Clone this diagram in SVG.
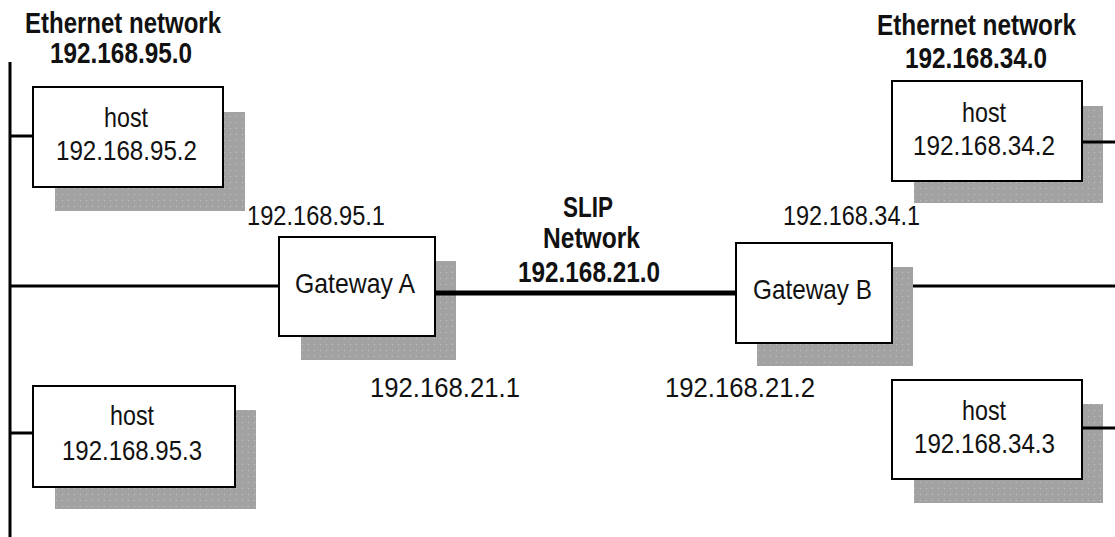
<svg xmlns="http://www.w3.org/2000/svg" width="1115" height="537" viewBox="0 0 1115 537">
  <defs>
    <!-- dotted grey drop shadow texture -->
    <pattern id="dots" width="6" height="6" patternUnits="userSpaceOnUse">
      <rect width="6" height="6" fill="#a2a2a2"/>
      <rect x="2" y="2" width="1" height="1" fill="#c4c4c4"/>
    </pattern>
  </defs>
  <style>
    .shadow { fill: url(#dots); }
    .box { fill: #ffffff; stroke: #000000; stroke-width: 2; }
    .lbl { font-family: "Liberation Sans", Arial, sans-serif; font-size: 28px; fill: #111111; }
    .ttl { font-family: "Liberation Sans", Arial, sans-serif; font-size: 29px; font-weight: bold; fill: #111111; }
    .wire { stroke: #000000; stroke-width: 3; fill: none; }
    .slip { stroke: #000000; stroke-width: 5; fill: none; }
  </style>
  <rect width="1115" height="537" fill="#ffffff"/>

  <!-- network titles -->
  <g id="net-95">
    <text class="ttl" x="25" y="33" textLength="196" lengthAdjust="spacingAndGlyphs">Ethernet network</text>
    <text class="ttl" x="50" y="63" textLength="142" lengthAdjust="spacingAndGlyphs">192.168.95.0</text>
  </g>
  <g id="net-34">
    <text class="ttl" x="877" y="35" textLength="199" lengthAdjust="spacingAndGlyphs">Ethernet network</text>
    <text class="ttl" x="905" y="68" textLength="142" lengthAdjust="spacingAndGlyphs">192.168.34.0</text>
  </g>
  <g id="net-slip">
    <text class="ttl" x="563" y="217" textLength="50" lengthAdjust="spacingAndGlyphs">SLIP</text>
    <text class="ttl" x="543" y="248" textLength="97" lengthAdjust="spacingAndGlyphs">Network</text>
    <text class="ttl" x="518" y="282" textLength="142" lengthAdjust="spacingAndGlyphs">192.168.21.0</text>
  </g>

  <!-- hosts -->
  <g id="host-95-2">
    <rect class="shadow" x="55" y="112" width="190" height="99"/>
    <rect class="box" x="33" y="87" width="190" height="100"/>
    <text class="lbl" x="104" y="127" textLength="44" lengthAdjust="spacingAndGlyphs">host</text>
    <text class="lbl" x="56" y="160" textLength="141" lengthAdjust="spacingAndGlyphs">192.168.95.2</text>
  </g>
  <g id="host-95-3">
    <rect class="shadow" x="55" y="410" width="201" height="99"/>
    <rect class="box" x="33" y="386" width="202" height="101"/>
    <text class="lbl" x="110" y="425" textLength="44" lengthAdjust="spacingAndGlyphs">host</text>
    <text class="lbl" x="62" y="460" textLength="140" lengthAdjust="spacingAndGlyphs">192.168.95.3</text>
  </g>
  <g id="host-34-2">
    <rect class="shadow" x="914" y="106" width="189" height="97"/>
    <rect class="box" x="892" y="81" width="190" height="100"/>
    <text class="lbl" x="962" y="122" textLength="44" lengthAdjust="spacingAndGlyphs">host</text>
    <text class="lbl" x="913" y="155" textLength="142" lengthAdjust="spacingAndGlyphs">192.168.34.2</text>
  </g>
  <g id="host-34-3">
    <rect class="shadow" x="914" y="404" width="189" height="99"/>
    <rect class="box" x="892" y="380" width="190" height="99"/>
    <text class="lbl" x="962" y="420" textLength="44" lengthAdjust="spacingAndGlyphs">host</text>
    <text class="lbl" x="914" y="453" textLength="141" lengthAdjust="spacingAndGlyphs">192.168.34.3</text>
  </g>

  <!-- gateways -->
  <g id="gateway-a">
    <rect class="shadow" x="301" y="261" width="155" height="99"/>
    <rect class="box" x="279" y="237" width="156" height="99"/>
    <text class="lbl" x="295" y="293" textLength="120" lengthAdjust="spacingAndGlyphs">Gateway A</text>
    <text class="lbl" x="247" y="225" textLength="138" lengthAdjust="spacingAndGlyphs">192.168.95.1</text>
    <text class="lbl" x="370" y="397" textLength="150" lengthAdjust="spacingAndGlyphs">192.168.21.1</text>
  </g>
  <g id="gateway-b">
    <rect class="shadow" x="757" y="267" width="156" height="99"/>
    <rect class="box" x="736" y="243" width="156" height="100"/>
    <text class="lbl" x="753" y="299" textLength="119" lengthAdjust="spacingAndGlyphs">Gateway B</text>
    <text class="lbl" x="783" y="225" textLength="137" lengthAdjust="spacingAndGlyphs">192.168.34.1</text>
    <text class="lbl" x="665" y="397" textLength="150" lengthAdjust="spacingAndGlyphs">192.168.21.2</text>
  </g>

  <!-- cabling -->
  <g id="connectors">
    <line class="wire" x1="10" y1="62" x2="10" y2="537"/>
    <line class="wire" x1="10" y1="136" x2="33" y2="136"/>
    <line class="wire" x1="10" y1="286" x2="279" y2="286"/>
    <line class="wire" x1="10" y1="433" x2="33" y2="433"/>
    <line class="slip" x1="435" y1="293" x2="736" y2="293"/>
    <line class="wire" x1="913" y1="286" x2="1115" y2="286"/>
    <line class="wire" x1="1082" y1="142" x2="1115" y2="142"/>
    <line class="wire" x1="1082" y1="428" x2="1115" y2="428"/>
  </g>
</svg>
